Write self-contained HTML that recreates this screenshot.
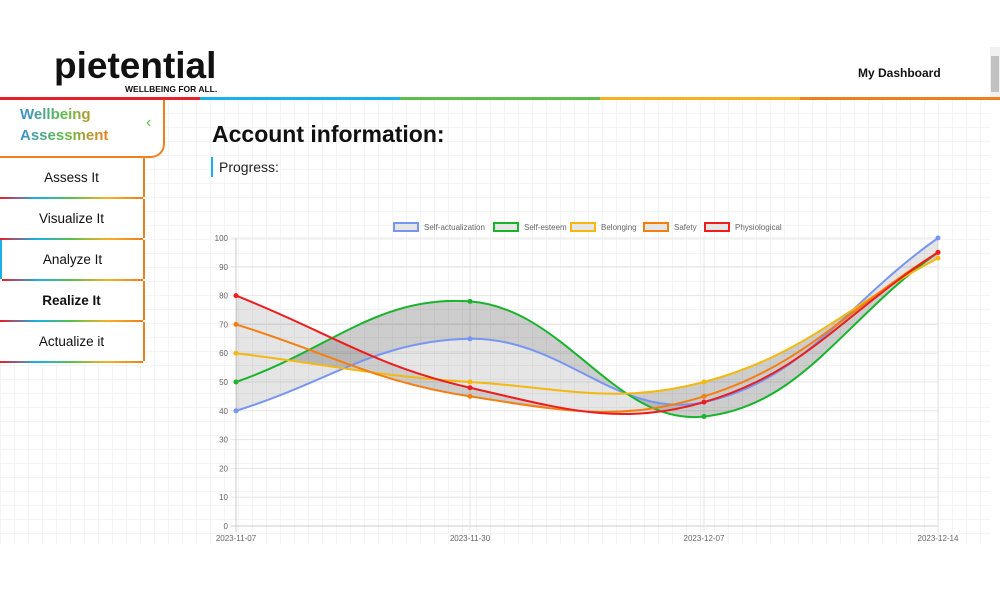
<!DOCTYPE html>
<html><head><meta charset="utf-8"><style>
body{margin:0;width:1000px;height:600px;background:#fff;position:relative;overflow:hidden;font-family:"Liberation Sans",sans-serif}
.grid{position:absolute;left:0;top:99px;width:990px;height:445px;background-image:linear-gradient(#f4f4f4 1px,transparent 1px),linear-gradient(90deg,#f4f4f4 1px,transparent 1px);background-size:14px 14px}
.stripe{position:absolute;top:97px;left:0;width:1000px;height:3px;background:linear-gradient(90deg,#e8202a 0 20%,#1ab0e8 20% 40%,#5cbf4a 40% 60%,#f4b223 60% 80%,#f07f1d 80% 100%)}
.logo{position:absolute;left:54px;top:45px;font-size:37px;font-weight:bold;color:#111;letter-spacing:0px}
.tag{position:absolute;left:125px;top:84px;font-size:8.5px;font-weight:bold;color:#111}
.dash{position:absolute;left:858px;top:66px;font-size:12px;font-weight:bold;color:#111}
.sb{position:absolute;left:990px;top:47px;width:10px;height:50px;background:#f1f1f1}
.sb div{margin:9px 1px;height:36px;background:#c1c1c1}
.card{position:absolute;left:0;top:100px;width:163px;height:56px;border:2px solid #f07f1d;border-left:none;border-top:none;border-radius:0 0 14px 0;background:#fff}
.card .t{position:absolute;left:20px;top:4px;font-size:15px;font-weight:bold;line-height:21px;background:linear-gradient(90deg,#3b8fd0,#5cbf4a,#f07f1d);-webkit-background-clip:text;color:transparent}
.card .c{position:absolute;left:146px;top:14px;color:#5cbf4a;font-size:16px}
.item{position:absolute;left:0;width:143px;height:39px;border-right:2px solid #f07f1d;background:#fff;text-align:center;font-size:13.5px;line-height:39px;color:#111}
.item:after{content:"";position:absolute;left:0;right:0;bottom:-2px;height:2px;background:linear-gradient(90deg,#e8202a,#1ab0e8,#5cbf4a,#f4b223,#f07f1d)}
h1{position:absolute;left:212px;top:121px;margin:0;font-size:23px;color:#111}
.prog{position:absolute;left:211px;top:157px;font-size:14px;color:#222;border-left:2px solid #1ab0e8;padding-left:6px;line-height:20px}
svg{position:absolute;left:0;top:0}
</style></head><body>
<div class="grid"></div>
<div class="logo">pietential</div>
<div class="tag">WELLBEING FOR ALL.</div>
<div class="dash">My Dashboard</div>
<div class="sb"><div></div></div>
<div class="stripe"></div>
<div class="card"><div class="t">Wellbeing<br>Assessment</div><div class="c">‹</div></div>
<div class="item" style="top:158px">Assess It</div>
<div class="item" style="top:199px">Visualize It</div>
<div class="item" style="top:240px;border-left:2px solid #1ab0e8;width:141px">Analyze It</div>
<div class="item" style="top:281px;font-weight:bold">Realize It</div>
<div class="item" style="top:322px">Actualize it</div>
<h1>Account information:</h1>
<div class="prog">Progress:</div>
<svg id="ch" width="1000" height="600" font-family="Liberation Sans, sans-serif"></svg>
<script>
const s=document.getElementById('ch');let h='';
const X=[236,470,704,938],Y=v=>526-v*2.88;
for(let v=0;v<=100;v+=10){h+=`<line x1="230" x2="938" y1="${Y(v)}" y2="${Y(v)}" stroke="${v?'#e6e6e6':'#ccc'}"/><text x="228" y="${Y(v)+3}" font-size="8" fill="#666" text-anchor="end">${v}</text>`}
const L=['2023-11-07','2023-11-30','2023-12-07','2023-12-14'];
X.forEach((x,i)=>{h+=`<line x1="${x}" x2="${x}" y1="238" y2="532" stroke="${i?'#e6e6e6':'#ccc'}"/><text x="${x}" y="541" font-size="8" fill="#666" text-anchor="middle">${L[i]}</text>`});
const D=[['#7896f0',[40,65,43,100],'Self-actualization',393],['#18b42c',[50,78,38,95],'Self-esteem',493],['#f4b80f',[60,50,50,93],'Belonging',570],['#f47f10',[70,45,45,95],'Safety',643],['#ee1c1c',[80,48,43,95],'Physiological',704]];
function cps(p){const t=0.4,r=[];for(let i=0;i<p.length;i++){const pr=p[i-1]||p[i],c=p[i],n=p[i+1]||p[i];const d1=Math.hypot(c[0]-pr[0],c[1]-pr[1]),d2=Math.hypot(n[0]-c[0],n[1]-c[1]);const s=d1+d2||1;const fa=t*d1/s,fb=t*d2/s;r.push([[c[0]-fa*(n[0]-pr[0]),c[1]-fa*(n[1]-pr[1])],[c[0]+fb*(n[0]-pr[0]),c[1]+fb*(n[1]-pr[1])]])}return r}
function path(v,rev){let p=v.map((y,i)=>[X[i],Y(y)]);if(rev)p=p.reverse();const c=cps(p);let d=`${p[0][0]},${p[0][1]}`;for(let i=1;i<p.length;i++)d+=` C${c[i-1][1][0]},${c[i-1][1][1]} ${c[i][0][0]},${c[i][0][1]} ${p[i][0]},${p[i][1]}`;return d}
for(let i=1;i<D.length;i++){h+=`<path d="M${path(D[i-1][1])} L${path(D[i][1],1)}Z" fill="rgba(0,0,0,0.1)"/>`}
D.forEach(([c,v])=>{h+=`<path d="M${path(v)}" fill="none" stroke="${c}" stroke-width="2"/>`;v.forEach((y,i)=>h+=`<circle cx="${X[i]}" cy="${Y(y)}" r="2.5" fill="${c}"/>`)});
D.forEach(([c,v,n,lx])=>{h+=`<rect x="${lx+1}" y="223" width="24" height="8" fill="#e6e6e6" stroke="${c}" stroke-width="2"/><text x="${lx+31}" y="230" font-size="8" fill="#666">${n}</text>`});
s.innerHTML=h;
</script>
</body></html>
